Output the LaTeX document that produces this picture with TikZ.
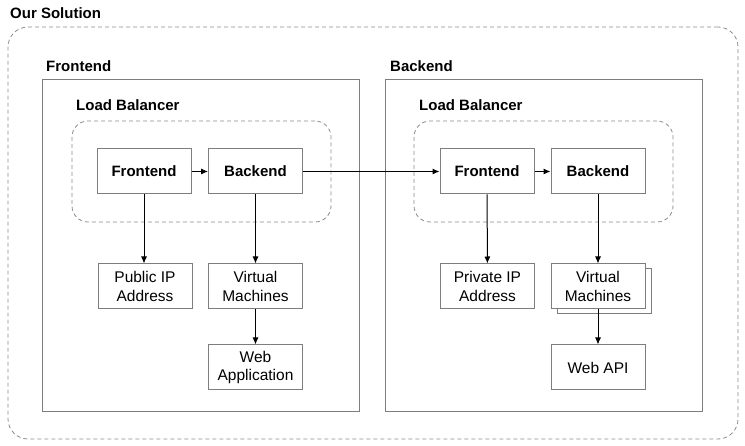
\documentclass[tikz,border=0pt]{standalone}
\usepackage{fontspec}
\setmainfont{Liberation Sans}
\usetikzlibrary{arrows.meta}
\definecolor{boxgray}{RGB}{125,125,125}
\definecolor{dashgray}{RGB}{140,140,140}
\begin{document}
\begin{tikzpicture}[x=1pt,y=-1pt,
  box/.style={draw=boxgray, line width=1pt, fill=white, minimum width=94pt, minimum height=45pt, inner sep=0pt, align=center, font=\fontsize{15.5}{18.3}\selectfont},
  boldbox/.style={box, font=\fontsize{15}{18}\selectfont\bfseries},
  container/.style={draw=boxgray, line width=1pt, inner sep=0pt},
  dashbox/.style={draw=dashgray, line width=0.8pt, dash pattern=on 4pt off 3pt, inner sep=0pt},
  title/.style={anchor=west, inner sep=0pt, font=\fontsize{15}{18}\selectfont\bfseries},
  arr/.style={-{Latex[length=7pt,width=6pt]}, line width=1pt, black}
]
\useasboundingbox (0,0) rectangle (745,446);
% outer
\node[dashbox, rounded corners=20pt, minimum width=730pt, minimum height=412pt] (outer) at (373,233) {};
\node[title] (outerlbl) at (10,13) {Our Solution};
% containers
\node[container, minimum width=317pt, minimum height=332pt] (fecont) at (200.5,246) {};
\node[title] (felbl) at (46,66) {Frontend};
\node[container, minimum width=317pt, minimum height=332pt] (becont) at (543.5,246) {};
\node[title] (belbl) at (390,66) {Backend};
% load balancers
\node[dashbox, rounded corners=16pt, minimum width=259pt, minimum height=101pt] (lb1) at (201.5,171.5) {};
\node[title] (lb1lbl) at (76,105) {Load Balancer};
\node[dashbox, rounded corners=16pt, minimum width=259pt, minimum height=101pt] (lb2) at (543.5,171.5) {};
\node[title] (lb2lbl) at (419,105) {Load Balancer};
% inner boxes left
\node[boldbox] (fe1) at (144,171.5) {Frontend};
\node[boldbox] (be1) at (255.5,171.5) {Backend};
\node[box] (pip) at (145,286.5) {Public IP\\Address};
\node[box] (vm1) at (255.5,286.5) {Virtual\\Machines};
\node[box] (webapp) at (255.5,367.5) {Web\\Application};
% inner boxes right
\node[boldbox] (fe2) at (487,171.5) {Frontend};
\node[boldbox] (be2) at (598,171.5) {Backend};
\node[box] (prip) at (487.5,286.5) {Private IP\\Address};
\node[box] (vm2shadow) at (604,291.5) {};
\node[box] (vm2) at (598,286.5) {Virtual\\Machines};
\node[box] (webapi) at (598,367.5) {Web API};
% arrows
\draw[arr] (fe1) -- (be1);
\draw[arr] (be1) -- (fe2);
\draw[arr] (fe2) -- (be2);
\draw[arr] (fe1.south) -- (fe1.south |- pip.north);
\draw[arr] (be1) -- (vm1);
\draw[arr] (vm1) -- (webapp);
\draw[arr] (fe2) -- (prip);
\draw[arr] (be2) -- (vm2);
\draw[arr] (vm2) -- (webapi);
\end{tikzpicture}
\end{document}
